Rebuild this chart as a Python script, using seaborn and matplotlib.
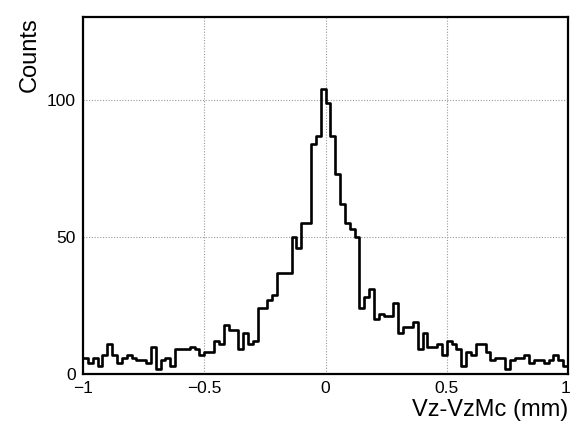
import numpy as np
import pandas as pd
import matplotlib
matplotlib.use("Agg")
import matplotlib.pyplot as plt
import matplotlib.transforms as mtransforms
import seaborn as sns

# ---- data ----
bin_lo, bin_hi, n_bins = -1.0, 1.0, 100
counts = [
    6, 4, 6, 3, 7, 11, 7, 4, 6, 7,
    6, 5, 5, 4, 10, 2, 5, 6, 3, 9,
    9, 9, 10, 9, 7, 8, 8, 12, 11, 18,
    16, 16, 9, 15, 11, 12, 24, 24, 27, 29,
    37, 37, 37, 50, 46, 55, 55, 84, 87, 104,
    99, 87, 73, 62, 55, 53, 50, 24, 28, 31,
    20, 22, 21, 21, 26, 15, 17, 17, 19, 9,
    15, 10, 10, 11, 7, 12, 11, 9, 3, 8,
    7, 11, 11, 8, 5, 6, 6, 2, 5, 6,
    6, 7, 4, 5, 5, 4, 5, 7, 5, 3,
]
x_ticks = [-1, -0.5, 0, 0.5, 1]
x_tick_labels = ["\u22121", "\u22120.5", "0", "0.5", "1"]
y_ticks = [0, 50, 100]
y_tick_labels = ["0", "50", "100"]
x_label = "Vz-VzMc (mm)"
y_label = "Counts"

edges = np.linspace(bin_lo, bin_hi, n_bins + 1)
centers = 0.5 * (edges[:-1] + edges[1:])
df = pd.DataFrame({"x": centers, "w": counts})

sns.set_theme(style="white")
plt.rcParams["font.family"] = ["Liberation Sans", "DejaVu Sans"]
plt.rcParams["text.color"] = "black"
plt.rcParams["xtick.color"] = "black"
plt.rcParams["ytick.color"] = "black"

W, H = 571, 430
fig = plt.figure(figsize=(W / 100, H / 100), dpi=100)
fig.patch.set_facecolor("white")
ax = fig.add_axes([83 / W, (H - 374) / H, (568 - 83) / W, (374 - 17) / H])

sns.histplot(data=df, x="x", weights="w", bins=n_bins, binrange=(bin_lo, bin_hi),
             element="step", fill=False, color="black", linewidth=1.9, ax=ax)

ax.set_xlim(bin_lo, bin_hi)
ax.set_ylim(0, 130.3)
ax.set_xticks(x_ticks)
ax.set_xticklabels(x_tick_labels, fontsize=12.5)
ax.set_yticks(y_ticks)
ax.set_yticklabels(y_tick_labels, fontsize=12.5)
ax.tick_params(axis="both", direction="out", length=3, width=0.8, color="#888888",
               labelcolor="black", pad=2)
ax.grid(True, color="#9a9a9a", linestyle=(0, (1, 1.5)), linewidth=0.8)
ax.set_axisbelow(True)
for s in ax.spines.values():
    s.set_color("black")
    s.set_linewidth(1.6)
ax.set_xlabel("")
ax.set_ylabel("")

# nudge the last x tick label slightly inward so it is not clipped at the edge
last = ax.get_xticklabels()[-1]
last.set_transform(last.get_transform() +
                   mtransforms.ScaledTranslation(-2.5 / 100, 0, fig.dpi_scale_trans))

fig.text(30 / W, 1 - 17 / H, y_label, rotation=90, ha="center", va="top",
         fontsize=17, color="black")
fig.text(568 / W, 1 - 410 / H, x_label, ha="right", va="center",
         fontsize=17, color="black")

fig.savefig("out.png", dpi=100)
